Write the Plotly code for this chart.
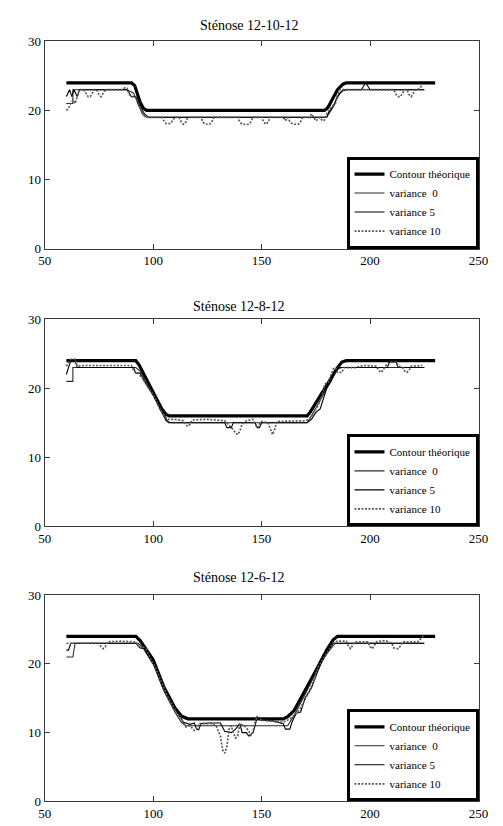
import plotly.graph_objects as go

# ---------------- data ----------------
X_TICKS = [50, 100, 150, 200, 250]
Y_TICKS = [0, 10, 20, 30]
TITLES = ["Sténose 12-10-12", "Sténose 12-8-12", "Sténose 12-6-12"]
SERIES_NAMES = ["Contour théorique", "variance \u00a00", "variance 5", "variance 10"]

# --- Sténose 12-10-12 ---
CONTOUR_A = [(60, 24), (90, 24), (91.5, 23.6), (94, 21.2), (95.5, 20.3), (97, 20), (179, 20),
             (180.5, 20.4), (185, 23), (187.5, 23.8), (189, 24), (230, 24)]
V0_A = [(60, 21), (63, 21), (63, 23), (88, 23), (91, 22.5), (95, 19.5), (97, 19), (180, 19),
        (182, 20), (186, 22.5), (188, 23), (225, 23)]
V5_A = [(60, 22), (61.5, 23), (62.5, 22), (63.5, 23), (65, 22), (66, 23), (88, 23), (90, 22),
        (92, 22), (94, 20.5), (96, 19.5), (98, 19), (180, 19), (181, 19.8), (183, 20.5), (185, 22),
        (187, 22.8), (189, 23), (196, 23), (198, 24), (200, 23), (225, 23)]
V10_A = [(60, 20), (61, 20.3), (62, 21), (63, 21.5), (64, 21), (65, 22), (66, 23), (68, 23),
         (69, 22.5), (70, 22), (71, 22), (72, 22.5), (73, 23), (74, 23), (75, 22.3), (76, 22),
         (77, 22.5), (78, 23), (86, 23), (87, 23.3), (88, 23.2), (89, 22.3), (90, 22), (92, 22),
         (93, 21), (95, 19.8), (96, 19.2), (98, 19), (104, 19), (105, 18.5), (106, 18.1), (108, 18.1),
         (109, 18.5), (110, 19), (112, 19), (113, 18.3), (114, 18), (115, 18.3), (116, 19), (122, 19),
         (123, 18.3), (124, 18), (126, 18), (127, 18.3), (128, 19), (139, 19), (140, 18.3), (141, 18),
         (144, 18), (145, 18.3), (146, 19), (150, 19), (151, 18.3), (152, 18), (153, 18.3), (154, 19),
         (160, 19), (161, 18.5), (162, 19), (163, 18.4), (164, 18.1), (165, 18), (167, 18), (168, 18.4),
         (169, 19), (172, 19), (173, 19.5), (174, 19), (175, 18.5), (177, 19), (178, 18.5), (179, 18.6),
         (180, 19.5), (182, 20.5), (184, 21), (185, 22.3), (186, 23), (188, 23), (211, 23), (212, 22.3),
         (213, 22), (214, 22), (215, 22.5), (216, 23), (217, 23), (218, 22.3), (219, 22), (220, 22.5),
         (221, 23), (222, 23), (224, 23.6)]

# --- Sténose 12-8-12 ---
CONTOUR_B = [(60, 24), (92, 24), (93.5, 23.4), (104, 17), (106, 16.2), (107.5, 16), (171, 16),
             (172.5, 16.6), (185, 23), (187, 23.8), (189, 24), (230, 24)]
V0_B = [(60, 21), (63, 21), (63, 23), (92, 23), (94, 22.5), (105, 16), (107, 15), (171, 15),
        (173, 16), (185, 22.8), (187, 23), (225, 23)]
V5_B = [(60, 22), (61, 23), (62, 24), (64, 24), (65, 23), (91, 23), (92, 22.2), (94, 22.2),
        (96, 21), (100, 19), (104, 16.5), (106, 15.3), (108, 15), (133, 15), (134, 14.3), (136, 14.3),
        (137, 15), (147, 15), (148, 14.3), (149, 14.3), (150, 15), (171, 15), (173, 15.5), (175, 16.5),
        (177, 17), (180, 20), (182, 21), (184, 22.5), (186, 23), (208, 23), (209, 23.8), (212, 23.8),
        (213, 23), (225, 23)]
V10_B = [(60, 23.2), (62, 24.2), (64, 24.2), (65, 23.2), (68, 23.3), (75, 23.3), (78, 23.2),
         (80, 23.3), (90, 23.3), (91, 22.5), (93, 22.2), (95, 21.5), (97, 20.5), (99, 19.5), (101, 18.5),
         (103, 17), (105, 16), (107, 15.5), (110, 15.5), (114, 15.3), (115, 14.7), (116, 14.5),
         (117, 14.8), (118, 15.4), (125, 15.5), (133, 15.3), (137, 14), (138, 13.5), (139, 13.3),
         (140, 13.8), (141, 14.8), (143, 15.3), (146, 15.5), (147, 14.8), (148, 14.3), (149, 14.8),
         (150, 15.2), (153, 15), (154, 14), (155, 13.3), (156, 14), (157, 15.2), (170, 15.3), (172, 15.5),
         (174, 16.5), (176, 17.5), (178, 19), (179, 20.5), (181, 21), (183, 22.8), (184, 23), (185, 22.3),
         (187, 22.3), (188, 23), (193, 23), (197, 23.3), (203, 23.2), (204, 22.6), (205, 22.3),
         (206, 22.6), (207, 23.2), (209, 23.8), (212, 23.8), (213, 23.2), (215, 23), (216, 22.5),
         (217, 22.3), (218, 22.6), (219, 23.2), (224, 23.3)]

# --- Sténose 12-6-12 ---
CONTOUR_C = [(60, 24), (92, 24), (94, 23.4), (96, 22.5), (100, 20.6), (105, 16.6), (110, 13.6),
             (113, 12.4), (116, 12), (160, 12), (162, 12.3), (165, 13.2), (170, 16), (175, 19),
             (180, 22), (183, 23.5), (185, 24), (230, 24)]
V0_C = [(60, 21), (63, 21), (64, 23), (93, 23), (95, 22.5), (100, 20), (105, 16), (110, 13),
        (113, 11.5), (115, 11), (162, 11), (165, 12.5), (170, 15.5), (175, 18.7), (180, 21.5),
        (184, 23), (225, 23)]
V5_C = [(60, 22), (61, 22), (62, 23), (92, 23), (94, 22.3), (96, 22.2), (98, 21), (101, 19.5),
        (104, 17), (106, 15.8), (108, 14.7), (110, 13.8), (112, 12.5), (114, 11.5), (117, 11.2),
        (119, 11.4), (120, 10.5), (121, 10.4), (122, 11.3), (126, 11.4), (131, 11.4), (133, 10.2),
        (136, 10), (138, 10.5), (140, 11.3), (141, 10), (143, 10), (144, 9.5), (146, 10), (147, 11),
        (148, 12.3), (150, 11.8), (155, 11.7), (160, 11.3), (161, 10.5), (163, 10.5), (164, 11.5),
        (166, 12.8), (168, 13), (170, 15), (173, 16.5), (176, 19), (178, 20.5), (181, 22), (183, 23),
        (225, 23)]
V10_C = [(60, 23), (75, 23), (76, 22.5), (77, 22.2), (78, 22.5), (79, 23.2), (85, 23.3), (92, 23.2),
         (94, 22.3), (95, 22.6), (97, 22), (99, 20.5), (101, 19.5), (103, 18), (105, 16.5), (107, 15),
         (109, 14), (111, 12.7), (113, 12), (115, 10.8), (117, 11), (118, 10.7), (119, 10.3), (120, 10.5),
         (121, 11.3), (127, 11.3), (129, 11), (131, 9.5), (132, 7.5), (133, 7), (134, 8), (135, 10.5),
         (136, 11), (137, 10), (138, 9.2), (139, 9.5), (140, 11.3), (142, 11), (144, 10.3), (145, 9.6),
         (146, 10), (147, 11.5), (148, 12.3), (150, 11.8), (155, 11.6), (160, 11.5), (163, 12),
         (166, 12.8), (168, 13.6), (170, 14.8), (172, 16), (174, 17.5), (176, 19.5), (178, 20.5),
         (180, 21.5), (182, 22.5), (183, 23), (185, 23.3), (189, 23.3), (190, 22.6), (191, 22.2),
         (192, 22.7), (193, 23.2), (199, 23.2), (200, 22.5), (201, 22.2), (202, 22.7), (203, 23.2),
         (207, 23.4), (210, 23), (211, 22.3), (213, 22.2), (214, 22.6), (215, 23.2), (222, 23.2),
         (224, 23.8), (225, 24.2)]

PANELS = [
    [CONTOUR_A, V0_A, V5_A, V10_A],
    [CONTOUR_B, V0_B, V5_B, V10_B],
    [CONTOUR_C, V0_C, V5_C, V10_C],
]

# ---------------- layout ----------------
W, H = 503, 826
FONT = "Liberation Serif"
PLOT_X = (39, 488)                      # pixel left/right of plot areas
PLOT_Y = [(35, 246), (318, 529), (599, 809)]   # pixel top/bottom
TITLE_POS = [(250, 19), (240, 305), (240, 581)]

STYLES = [
    dict(color="#000000", width=3.2, dash="solid"),
    dict(color="#2a2a2a", width=1.1, dash="solid"),
    dict(color="#000000", width=1.1, dash="solid"),
    dict(color="#5a5a5a", width=1.7, dash="2px,1.5px"),
]

def px_x(p):
    return p / W

def px_y(p):
    return 1 - p / H

fig = go.Figure()
layout = dict(
    width=W, height=H,
    margin=dict(l=0, r=0, t=0, b=0),
    paper_bgcolor="white", plot_bgcolor="white",
    font=dict(family=FONT, size=13, color="black"),
    annotations=[],
)

for i, series in enumerate(PANELS):
    k = "" if i == 0 else str(i + 1)
    leg = "legend" + k
    for name, pts, st in zip(SERIES_NAMES, series, STYLES):
        xs = [p[0] for p in pts]
        ys = [p[1] for p in pts]
        fig.add_trace(go.Scatter(
            x=xs, y=ys, mode="lines", name=name,
            line=dict(color=st["color"], width=st["width"], dash=st["dash"]),
            xaxis="x" + k, yaxis="y" + k, legend=leg, showlegend=True,
        ))
    top, bot = PLOT_Y[i]
    axis_common = dict(
        showline=True, linecolor="#3a3a3a", linewidth=1, mirror="ticks",
        ticks="inside", ticklen=5, tickwidth=1, tickcolor="#3a3a3a",
        showgrid=False, zeroline=False,
        tickfont=dict(family=FONT, size=13, color="black"),
        fixedrange=True,
    )
    layout["xaxis" + k] = dict(
        axis_common, domain=[px_x(PLOT_X[0]), px_x(PLOT_X[1])], range=[50, 250],
        tickvals=X_TICKS, ticktext=[str(v) for v in X_TICKS], anchor="y" + k,
    )
    layout["yaxis" + k] = dict(
        axis_common, domain=[px_y(bot), px_y(top)], range=[0, 30],
        tickvals=Y_TICKS, ticktext=[str(v) for v in Y_TICKS], anchor="x" + k,
    )
    layout[leg] = dict(
        x=px_x(PLOT_X[1]), xanchor="right",
        y=px_y(bot), yanchor="bottom",
        bgcolor="white", bordercolor="black", borderwidth=3,
        font=dict(family=FONT, size=11, color="black"),
        itemwidth=30, tracegroupgap=0,
    )
    tx, ty = TITLE_POS[i]
    layout["annotations"].append(dict(
        text=TITLES[i], x=px_x(tx), y=px_y(ty), xref="paper", yref="paper",
        xanchor="center", yanchor="middle", showarrow=False,
        font=dict(family=FONT, size=14, color="black"),
    ))

fig.update_layout(**layout)
fig.write_html(
    "out.html",
    config={"displayModeBar": False},
    post_script="document.body.style.margin='0';document.body.style.overflow='hidden';",
)
